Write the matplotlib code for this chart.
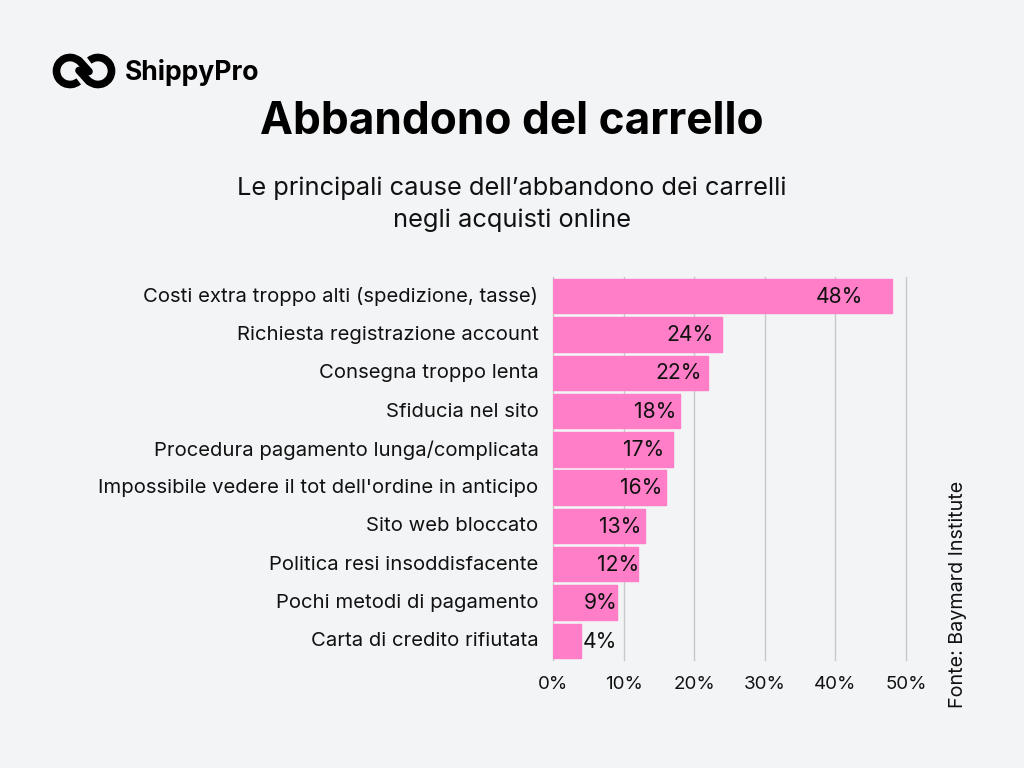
import matplotlib
matplotlib.use('Agg')
import matplotlib.pyplot as plt
from matplotlib.patches import Arc
from matplotlib.transforms import ScaledTranslation

plt.rcParams['font.family'] = ['Inter', 'Noto Sans', 'DejaVu Sans']

causes = ['Costi extra troppo alti (spedizione, tasse)', 'Richiesta registrazione account',
          'Consegna troppo lenta', 'Sfiducia nel sito', 'Procedura pagamento lunga/complicata',
          "Impossibile vedere il tot dell'ordine in anticipo", 'Sito web bloccato',
          'Politica resi insoddisfacente', 'Pochi metodi di pagamento', 'Carta di credito rifiutata']
values = [48, 24, 22, 18, 17, 16, 13, 12, 9, 4]
xticks = [0, 10, 20, 30, 40, 50]
# distanza in px tra fine barra e fine etichetta
label_gaps = [29, 9, 6, 4, 9, 4, 3, -2, -1, -36]
bg = '#f3f4f6'
pink = '#ff7ec7'

fig = plt.figure(figsize=(10.24, 7.68), dpi=100, facecolor=bg)
W, H = 1024, 768

# asse: 0% a x=553, 50% a x=906
ax = fig.add_axes([553/W, 1-660/H, (906-553)/W, (660-277)/H], facecolor=bg)
ypos = list(range(len(causes)))
ax.barh(ypos, values, height=0.9, color=pink, edgecolor=pink, linewidth=1,
        joinstyle='round', zorder=2)
ax.set_xlim(0, 50)
ax.set_ylim(len(causes)-0.5, -0.5)
ax.set_xticks(xticks)
ax.set_xticklabels([f'{t}%' for t in xticks], fontsize=13.5, color='#111111')
ax.set_yticks(ypos)
ax.set_yticklabels(causes, fontsize=14.6, color='#111111')
ax.tick_params(axis='both', length=0)
ax.tick_params(axis='y', pad=10.5)
ax.tick_params(axis='x', pad=11.5)
# etichette y un po' piu' in alto
for lab in ax.get_yticklabels():
    lab.set_transform(lab.get_transform() + ScaledTranslation(0, 1.5/100, fig.dpi_scale_trans))
ax.grid(axis='x', color='#c9c9c9', linewidth=1, zorder=1)
for line in ax.get_xgridlines():
    line.set_clip_on(False)
for s in ax.spines.values():
    s.set_visible(False)

# etichette valori
for i, v in enumerate(values):
    ax.annotate(f'{v}%', (v, i), xytext=(-label_gaps[i]*0.72, -0.5), textcoords='offset points',
                va='center', ha='right', fontsize=15.2, color='#111111', zorder=3)

fig.text(512/W, 1-122/H, 'Abbandono del carrello', ha='center', va='center', fontsize=31.8, fontweight='bold', color='#000000')
fig.text(512/W, 1-188/H, 'Le principali cause dell’abbandono dei carrelli', ha='center', va='center', fontsize=18.3, color='#111111')
fig.text(512/W, 1-220/H, 'negli acquisti online', ha='center', va='center', fontsize=18.3, color='#111111')
fig.text(958/W, 1-594.5/H, 'Fonte: Baymard Institute', rotation=90, ha='center', va='center', fontsize=14.2, color='#111111')

# logo
logo = fig.add_axes([0, 0, 1, 1], facecolor='none')
logo.set_xlim(0, W)
logo.set_ylim(0, H)
logo.axis('off')
cy = H - 71
logo.add_patch(Arc((70, cy), 27, 27, theta1=50, theta2=310, edgecolor='black', linewidth=5.5))
logo.add_patch(Arc((98, cy), 27, 27, theta1=230, theta2=130, edgecolor='black', linewidth=5.5))
logo.plot([79, 89], [cy+10.5, cy-0.5], color='black', linewidth=5.5, solid_capstyle='round')
logo.plot([79, 89], [cy+0.5, cy-10.5], color='black', linewidth=5.5, solid_capstyle='round')
logo.text(125, H-72, 'ShippyPro', fontsize=19.1, fontweight='bold', va='center', ha='left', color='black')

fig.savefig('out.png', dpi=100, facecolor=bg)
